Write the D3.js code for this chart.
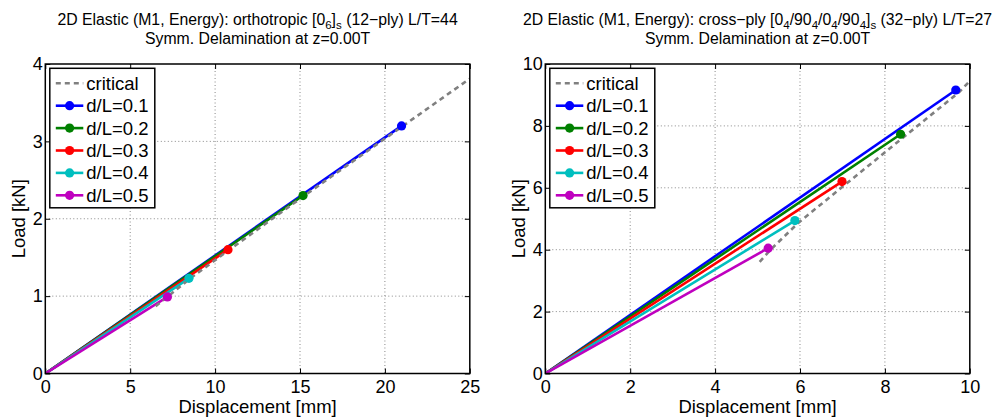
<!DOCTYPE html>
<html>
<head>
<meta charset="utf-8">
<script src="https://cdn.jsdelivr.net/npm/d3@7"></script>
<style>
  body { margin: 0; background: #fff; }
  svg { font-family: "Liberation Sans", Arial, sans-serif; }
  .tick text { font-size: 18px; fill: #000; }
  .tick line { stroke: #000; stroke-width: 1; }
</style>
</head>
<body>
<div id="chart"></div>
<script>
// legend labels / series
const seriesNames = ['d/L=0.1', 'd/L=0.2', 'd/L=0.3', 'd/L=0.4', 'd/L=0.5'];
const seriesColors = ['#0000ff', '#008000', '#ff0000', '#00bfbf', '#bf00bf'];

// left panel: orthotropic [0_6]_s
const leftXTicks = [0, 5, 10, 15, 20, 25];
const leftYTicks = [0, 1, 2, 3, 4];
// end points (displacement mm, load kN), lines start at origin
const leftEnds = [[20.98, 3.20], [15.18, 2.30], [10.76, 1.60], [8.46, 1.23], [7.19, 0.99]];
const leftCritical = [[6.5, 0.87], [7.19, 0.99], [8.48, 1.22], [10.78, 1.59], [15.2, 2.29], [21.0, 3.19], [25.0, 3.81]];

// right panel: cross-ply
const rightXTicks = [0, 2, 4, 6, 8, 10];
const rightYTicks = [0, 2, 4, 6, 8, 10];
const rightEnds = [[9.67, 9.16], [8.37, 7.73], [6.99, 6.20], [5.88, 4.94], [5.25, 4.05]];
const rightCritical = [[5.05, 3.61], [5.32, 4.02], [5.97, 4.88], [7.08, 6.12], [8.48, 7.68], [9.74, 9.08], [10.0, 9.45]];

const leftTitle = [
  [['2D Elastic (M1, Energy): orthotropic [0', false], ['6', true], [']', false], ['s', true], [' (12\u2212ply) L/T=44', false]],
  [['Symm. Delamination at z=0.00T', false]]
];
const rightTitle = [
  [['2D Elastic (M1, Energy): cross\u2212ply [0', false], ['4', true], ['/90', false], ['4', true], ['/0', false], ['4', true],
   ['/90', false], ['4', true], [']', false], ['s', true], [' (32\u2212ply) L/T=27', false]],
  [['Symm. Delamination at z=0.00T', false]]
];

const svg = d3.select('#chart').append('svg')
  .attr('width', 1004)
  .attr('height', 419);

class LoadChart {
  constructor(_config, data) {
    this.config = {
      id: _config.id,
      left: _config.left,
      top: 64,
      width: 424.5,
      height: 309.5,
      xMax: _config.xMax,
      yMax: _config.yMax,
      xTicks: _config.xTicks,
      yTicks: _config.yTicks,
      title: _config.title
    };
    this.ends = data.ends;
    this.critical = data.critical;
    this.initVis();
  }

  initVis() {
    let vis = this;
    const c = vis.config;

    vis.g = svg.append('g')
      .attr('transform', `translate(${c.left},${c.top})`);

    vis.xScale = d3.scaleLinear().domain([0, c.xMax]).range([0, c.width]);
    vis.yScale = d3.scaleLinear().domain([0, c.yMax]).range([c.height, 0]);

    // clip so the critical curve stops at the box
    vis.g.append('clipPath').attr('id', 'clip-' + c.id)
      .append('rect').attr('width', c.width).attr('height', c.height);

    // dotted grid
    vis.g.selectAll('.xgrid')
      .data(c.xTicks.filter(d => d > 0 && d < c.xMax))
      .join('line')
      .attr('x1', d => vis.xScale(d)).attr('x2', d => vis.xScale(d))
      .attr('y1', 0).attr('y2', c.height)
      .attr('stroke', '#888').attr('stroke-width', 1).attr('stroke-dasharray', '1,2.5');
    vis.g.selectAll('.ygrid')
      .data(c.yTicks.filter(d => d > 0 && d < c.yMax))
      .join('line')
      .attr('y1', d => vis.yScale(d)).attr('y2', d => vis.yScale(d))
      .attr('x1', 0).attr('x2', c.width)
      .attr('stroke', '#888').attr('stroke-width', 1).attr('stroke-dasharray', '1,2.5');

    // axes, ticks point inward like matlab
    const axes = [
      vis.g.append('g')
        .attr('transform', `translate(0,${c.height})`)
        .call(d3.axisBottom(vis.xScale).tickValues(c.xTicks).tickFormat(d3.format('d')).tickSize(-5).tickPadding(6.5)),
      vis.g.append('g')
        .call(d3.axisTop(vis.xScale).tickValues(c.xTicks).tickFormat('').tickSize(-5)),
      vis.g.append('g')
        .call(d3.axisLeft(vis.yScale).tickValues(c.yTicks).tickFormat(d3.format('d')).tickSize(-5).tickPadding(2.5)),
      vis.g.append('g')
        .attr('transform', `translate(${c.width},0)`)
        .call(d3.axisRight(vis.yScale).tickValues(c.yTicks).tickFormat('').tickSize(-5))
    ];
    axes.forEach(a => {
      a.attr('font-family', null).attr('font-size', null);
      a.select('.domain').remove();
    });

    // axis labels
    vis.g.append('text')
      .attr('x', c.width / 2).attr('y', c.height + 39)
      .attr('text-anchor', 'middle')
      .attr('font-size', 18.5)
      .text('Displacement [mm]');
    vis.g.append('text')
      .attr('transform', `translate(${-20},${c.height / 2}) rotate(-90)`)
      .attr('text-anchor', 'middle')
      .attr('font-size', 18.5)
      .text('Load [kN]');

    // title, two lines with subscripts
    c.title.forEach((line, i) => {
      const t = vis.g.append('text')
        .attr('x', c.width / 2).attr('y', -39.5 + i * 19)
        .attr('text-anchor', 'middle')
        .style('font-size', '15.8px');
      line.forEach(([s, sub], j) => {
        const span = t.append('tspan').text(s);
        if (sub) span.style('font-size', '11.5px').attr('dy', 4);
        else if (j > 0) span.attr('dy', -4);
      });
    });

    vis.renderVis();
  }

  renderVis() {
    let vis = this;
    const c = vis.config;
    const line = d3.line().x(d => vis.xScale(d[0])).y(d => vis.yScale(d[1]));
    const plot = vis.g.append('g').attr('clip-path', `url(#clip-${c.id})`);

    plot.selectAll('.series')
      .data(vis.ends)
      .join('path')
      .attr('class', 'series')
      .attr('d', d => line([[0, 0], d]))
      .attr('fill', 'none')
      .attr('stroke', (d, i) => seriesColors[i])
      .attr('stroke-width', 2.6);

    plot.append('path')
      .attr('d', line(vis.critical))
      .attr('fill', 'none')
      .attr('stroke', '#808080')
      .attr('stroke-width', 2.6)
      .attr('stroke-dasharray', '5,4');

    plot.selectAll('.marker')
      .data(vis.ends)
      .join('circle')
      .attr('cx', d => vis.xScale(d[0]))
      .attr('cy', d => vis.yScale(d[1]))
      .attr('r', 4.6)
      .attr('fill', (d, i) => seriesColors[i]);

    // box
    vis.g.append('rect')
      .attr('width', c.width).attr('height', c.height)
      .attr('fill', 'none').attr('stroke', '#000').attr('stroke-width', 1.5);

    // legend
    const lg = vis.g.append('g').attr('transform', 'translate(4.5,4.3)');
    lg.append('rect')
      .attr('width', 105).attr('height', 139.5)
      .attr('fill', '#fff').attr('stroke', '#000').attr('stroke-width', 1.5);
    const entries = [{ name: 'critical', color: '#808080', dash: true }]
      .concat(seriesNames.map((n, i) => ({ name: n, color: seriesColors[i], dash: false })));
    const row = lg.selectAll('.entry')
      .data(entries)
      .join('g')
      .attr('transform', (d, i) => `translate(0,${15 + i * 22.4})`);
    row.append('line')
      .attr('x1', 6).attr('x2', 33.5)
      .attr('stroke', d => d.color).attr('stroke-width', 2.6)
      .attr('stroke-dasharray', d => d.dash ? '5,4' : null);
    row.filter(d => !d.dash).append('circle')
      .attr('cx', 19.8).attr('r', 4.6).attr('fill', d => d.color);
    row.append('text')
      .attr('x', 36.5).attr('dy', '0.35em')
      .attr('font-size', 18.5)
      .text(d => d.name);
  }
}

new LoadChart({ id: 'l', left: 45.3, xMax: 25, yMax: 4, xTicks: leftXTicks, yTicks: leftYTicks, title: leftTitle },
  { ends: leftEnds, critical: leftCritical });
new LoadChart({ id: 'r', left: 545.3, xMax: 10, yMax: 10, xTicks: rightXTicks, yTicks: rightYTicks, title: rightTitle },
  { ends: rightEnds, critical: rightCritical });
</script>
</body>
</html>
